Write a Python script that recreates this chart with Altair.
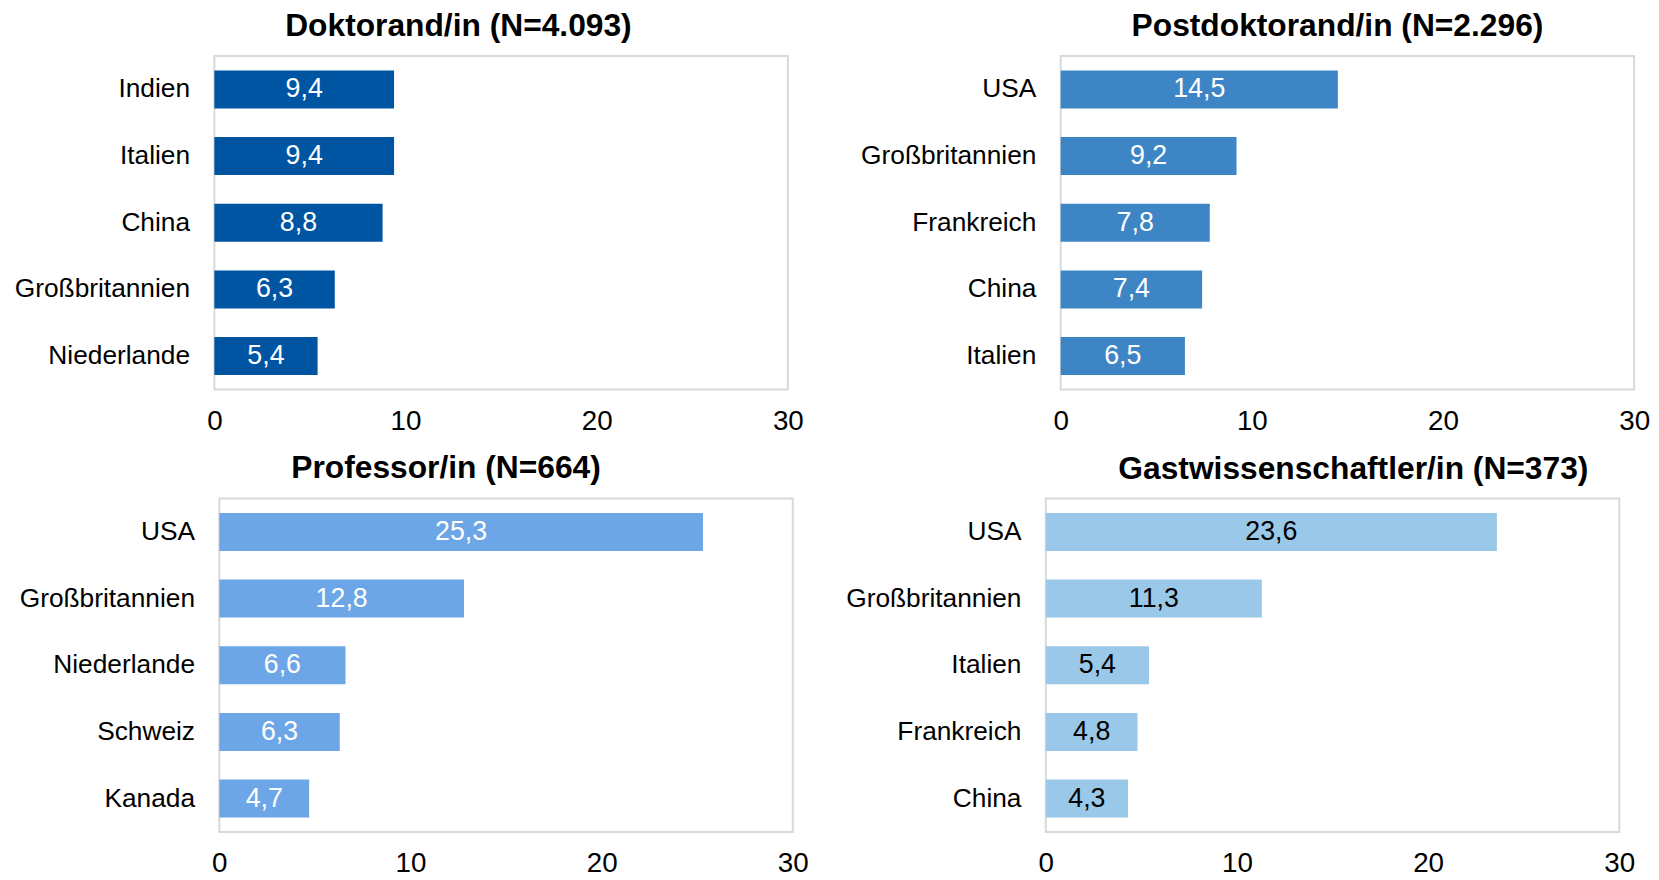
import altair as alt
import pandas as pd

FONT = "Liberation Sans"

# --- data -------------------------------------------------------------
doktorand_laender = ["Indien", "Italien", "China", "Großbritannien", "Niederlande"]
doktorand_werte = [9.4, 9.4, 8.8, 6.3, 5.4]

postdoc_laender = ["USA", "Großbritannien", "Frankreich", "China", "Italien"]
postdoc_werte = [14.5, 9.2, 7.8, 7.4, 6.5]

professor_laender = ["USA", "Großbritannien", "Niederlande", "Schweiz", "Kanada"]
professor_werte = [25.3, 12.8, 6.6, 6.3, 4.7]

gast_laender = ["USA", "Großbritannien", "Italien", "Frankreich", "China"]
gast_werte = [23.6, 11.3, 5.4, 4.8, 4.3]

titel = [
    "Doktorand/in (N=4.093)",
    "Postdoktorand/in (N=2.296)",
    "Professor/in (N=664)",
    "Gastwissenschaftler/in (N=373)",
]
farben = ["#0055A2", "#3E85C5", "#6DA6E6", "#9AC8E9"]
textfarben = ["white", "white", "white", "black"]
x_ticks = [0, 10, 20, 30]
x_domain = [0, 30]

W = 578
H = 336
BORDER = "#D9D9D9"


def panel(title, cats, vals, color, tcolor, dx, extent, shift=0):
    df = pd.DataFrame({
        "land": cats,
        "wert": vals,
        "mitte": [v / 2 for v in vals],
        "label": [f"{v:.1f}".replace(".", ",") for v in vals],
    })
    y = alt.Y(
        "land:N",
        sort=cats,
        title=None,
        scale=alt.Scale(paddingInner=0.43, paddingOuter=0.215),
        axis=alt.Axis(
            labelFontSize=26.5, labelFont=FONT, labelColor="black",
            ticks=False, tickSize=0, domain=False, labelPadding=25 - shift,
            minExtent=extent, maxExtent=extent, labelLimit=400,
        ),
    )
    if shift:
        xscale = alt.Scale(domain=x_domain, nice=False, zero=True,
                           range=[shift, W + shift])
    else:
        xscale = alt.Scale(domain=x_domain, nice=False, zero=True)
    bars = alt.Chart(df).mark_bar(color=color).encode(
        y=y,
        x=alt.X(
            "wert:Q", scale=xscale, title=None,
            axis=alt.Axis(
                values=x_ticks, grid=False, ticks=False, tickSize=0,
                domain=False, labelFontSize=28, labelFont=FONT,
                labelColor="black", labelPadding=18, labelFlush=False,
            ),
        ),
    )
    text = alt.Chart(df).mark_text(
        color=tcolor, fontSize=27, font=FONT, align="center", baseline="middle"
    ).encode(
        y=y,
        x=alt.X("mitte:Q", scale=xscale, title=None),
        text="label:N",
    )
    layers = [bars, text]
    props = dict(
        width=W + shift,
        height=H,
        title=alt.TitleParams(
            text=title, fontSize=32, font=FONT, fontWeight="bold",
            color="black", anchor="middle", frame="group", dx=dx, offset=13,
        ),
    )
    if shift:
        frame = alt.Chart(pd.DataFrame({"k": [0]})).mark_rect(
            filled=False, stroke=BORDER, strokeWidth=2
        ).encode(
            x=alt.datum(x_domain[0]),
            x2=alt.datum(x_domain[1]),
            y=alt.value(0),
            y2=alt.value(H),
        )
        layers = [frame, bars, text]
        props["view"] = alt.ViewBackground(stroke="transparent")
    return alt.layer(*layers).properties(**props)


a = panel(titel[0], doktorand_laender, doktorand_werte, farben[0], textfarben[0], -43, 207)
b = panel(titel[1], postdoc_laender, postdoc_werte, farben[1], textfarben[1], -10, 207)
c = panel(titel[2], professor_laender, professor_werte, farben[2], textfarben[2], -58, 202, shift=5)
d = panel(titel[3], gast_laender, gast_werte, farben[3], textfarben[3], 21, 207)

row1 = alt.hconcat(a, b, spacing=50)
row2 = alt.hconcat(c, d, spacing=30)

chart = (
    alt.vconcat(row1, row2, spacing=15)
    .properties(
        padding={"top": -2, "left": 0, "right": 0, "bottom": 0},
        background="white",
    )
    .configure_view(stroke=BORDER, strokeWidth=2)
)

chart.save("out.html", embed_options={"renderer": "svg", "actions": False})
